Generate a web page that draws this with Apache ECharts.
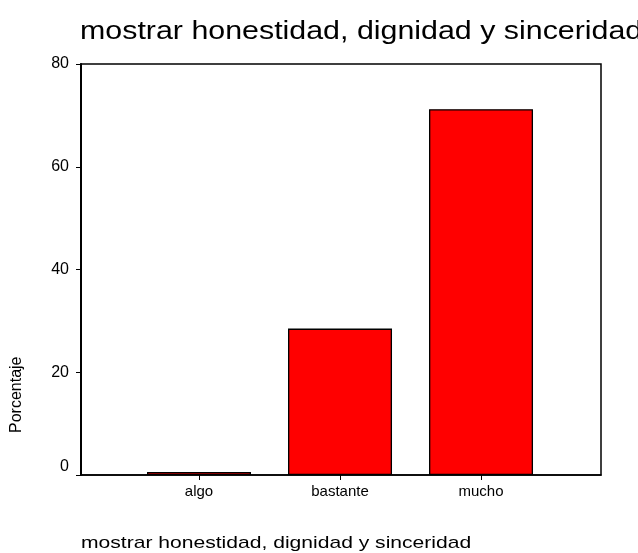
<!DOCTYPE html>
<html>
<head>
<meta charset="utf-8">
<script src="https://cdn.jsdelivr.net/npm/echarts@6/dist/echarts.min.js"></script>
<style>
  html, body { margin: 0; padding: 0; background: #fff; }
  #chart { width: 638px; height: 553px; }
</style>
</head>
<body>
<div id="chart"></div>
<script>
// datos
const categories = ["algo", "bastante", "mucho"];
const percentValues = [0.6, 28.5, 71.2];
const yTicks = [0, 20, 40, 60, 80];
const titleText = "mostrar honestidad, dignidad y sinceridad";
const yName = "Porcentaje";

// posiciones de las barras en un eje de valores (1, 2, 3)
const catPositions = categories.map((c, i) => i + 1);
const barData = percentValues.map((v, i) => [catPositions[i], v]);

const FONT = "Liberation Sans, Arial, sans-serif";
const myChart = echarts.init(document.getElementById("chart"));

myChart.setOption({
  animation: false,
  textStyle: { fontFamily: FONT },
  graphic: [
    {
      // titulo (un poco ensanchado como en la imagen original)
      type: "text",
      x: 80,
      y: 20,
      scaleX: 1.215,
      style: { text: titleText, fontSize: 25, fill: "#000", fontFamily: FONT, verticalAlign: "top" }
    },
    {
      type: "text",
      x: 81,
      y: 535,
      scaleX: 1.24,
      style: { text: titleText, fontSize: 17, fill: "#000", fontFamily: FONT, verticalAlign: "top" }
    },
    {
      type: "text",
      x: 9,
      y: 433,
      rotation: Math.PI / 2,
      style: { text: yName, fontSize: 16, fill: "#000", fontFamily: FONT, verticalAlign: "top" }
    }
  ],
  grid: {
    left: 81,
    right: 37,
    top: 64,
    bottom: 78,
    show: true,
    borderColor: "#000",
    borderWidth: 1.5,
    backgroundColor: "#fff"
  },
  xAxis: {
    type: "value",
    min: 0.163,
    max: 3.851,
    splitLine: { show: false },
    axisLine: { show: true, lineStyle: { color: "#000", width: 1.5 } },
    axisTick: {
      show: true,
      length: 5,
      customValues: catPositions,
      lineStyle: { color: "#000" }
    },
    axisLabel: {
      color: "#000",
      fontSize: 15,
      margin: 9,
      customValues: catPositions,
      formatter: v => categories[Math.round(v) - 1] || ""
    }
  },
  yAxis: {
    type: "value",
    min: 0,
    max: 80,
    interval: 20,
    splitLine: { show: false },
    axisLine: { show: true, lineStyle: { color: "#000", width: 2 } },
    axisTick: { show: true, length: 5, lineStyle: { color: "#000" } },
    axisLabel: {
      color: "#000",
      fontSize: 16,
      margin: 12,
      formatter: v => {
        if (yTicks.indexOf(v) < 0) return "";
        return v === 0 ? "{z|0}" : String(v);
      },
      rich: {
        z: { fontSize: 16, padding: [0, 0, 17, 0] }
      }
    }
  },
  series: [
    {
      type: "bar",
      data: barData,
      barWidth: 104,
      itemStyle: { color: "#ff0000", borderColor: "#000", borderWidth: 1.3 }
    }
  ]
});
</script>
</body>
</html>
